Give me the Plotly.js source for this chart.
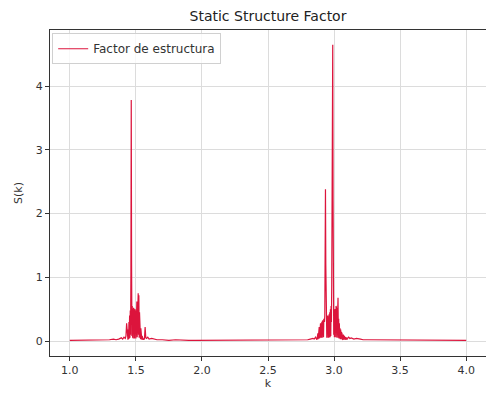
<!DOCTYPE html>
<html>
<head>
<meta charset="utf-8">
<script src="https://cdn.plot.ly/plotly-3.0.1.min.js"></script>
<style>html,body{margin:0;padding:0;background:#fff;}#chart{width:486px;height:393px;}</style>
</head>
<body>
<div id="chart"></div>
<script>
// k values (wavenumber) and S(k) values
const kLow = [1.00,1.05,1.10,1.15,1.20,1.25,1.30,1.33,1.35,1.37,1.39,1.40,1.41,1.42,1.425,1.43,1.435];
const sLow = [0.01,0.01,0.01,0.02,0.01,0.02,0.02,0.03,0.02,0.03,0.05,0.03,0.06,0.04,0.08,0.28,0.04];

const kPeak1 = [1.4400,1.4425,1.4450,1.4475,1.4500,1.4525,1.4550,1.4575,1.4600,1.4625,1.4650,1.4675,1.4700,1.4725,1.4750,1.4775,1.4800,1.4825,1.4850,1.4875,1.4900,1.4925,1.4950,1.4975,1.5000,1.5025,1.5050,1.5075,1.5100,1.5125,1.5150,1.5175,1.5200,1.5225,1.5250,1.5275,1.5300,1.5325,1.5350,1.5375,1.5400,1.5425,1.5450,1.5475,1.5500,1.5525,1.5550,1.5575,1.5600];
const sPeak1 = [0.02,0.18,0.03,0.30,0.04,0.40,0.05,0.48,0.10,1.10,3.78,1.20,0.08,0.55,0.05,0.50,0.04,0.52,0.05,0.48,0.04,0.50,0.05,0.46,0.04,0.55,0.05,0.62,0.06,0.70,0.08,0.75,0.10,0.72,0.05,0.45,0.04,0.30,0.03,0.20,0.02,0.12,0.02,0.08,0.02,0.05,0.02,0.04,0.02];

const kMid = [1.565,1.57,1.575,1.58,1.59,1.60,1.62,1.64,1.66,1.70,1.75,1.80,1.85,1.90,1.95,2.00,2.05,2.10,2.15,2.20,2.25,2.30,2.35,2.40,2.45,2.50,2.55,2.60,2.65,2.70,2.75,2.78,2.80,2.82,2.84,2.85,2.86];
const sMid = [0.04,0.22,0.05,0.04,0.06,0.03,0.04,0.03,0.02,0.02,0.01,0.02,0.01,0.01,0.01,0.01,0.01,0.01,0.01,0.01,0.01,0.01,0.01,0.01,0.01,0.01,0.01,0.02,0.01,0.02,0.02,0.02,0.02,0.03,0.04,0.03,0.06];

const kPeak2 = [2.8700,2.8725,2.8750,2.8775,2.8800,2.8825,2.8850,2.8875,2.8900,2.8925,2.8950,2.8975,2.9000,2.9025,2.9050,2.9075,2.9100,2.9125,2.9150,2.9175,2.9200,2.9225,2.9250,2.9275,2.9300,2.9325,2.9350,2.9375,2.9400,2.9425,2.9450,2.9475,2.9500,2.9525,2.9550,2.9575,2.9600,2.9625,2.9650,2.9675,2.9700,2.9725,2.9750,2.9775,2.9800,2.9825,2.9850,2.9875,2.9900,2.9925,2.9950,2.9975,3.0000,3.0025,3.0050,3.0075,3.0100,3.0125,3.0150,3.0175,3.0200,3.0225,3.0250,3.0275,3.0300,3.0325,3.0350,3.0375,3.0400,3.0425,3.0450,3.0475,3.0500,3.0525,3.0550,3.0575,3.0600,3.0625,3.0650,3.0675,3.0700,3.0725,3.0750,3.0775,3.0800,3.0825,3.0850,3.0875,3.0900,3.0925,3.0950,3.0975,3.1000];
const sPeak2 = [0.02,0.08,0.02,0.12,0.03,0.15,0.03,0.22,0.04,0.28,0.04,0.28,0.05,0.30,0.05,0.30,0.05,0.32,0.05,0.30,0.06,0.35,0.08,0.30,0.40,1.10,2.38,1.20,0.10,0.40,0.05,0.35,0.05,0.40,0.05,0.38,0.05,0.42,0.06,0.45,0.06,0.50,0.08,0.55,0.30,0.90,2.00,3.50,4.65,2.20,0.80,0.10,0.45,0.06,0.50,0.06,0.48,0.06,0.55,0.06,0.50,0.05,0.60,0.05,0.68,0.05,0.35,0.04,0.28,0.04,0.20,0.03,0.18,0.03,0.14,0.03,0.12,0.03,0.10,0.02,0.10,0.02,0.08,0.02,0.07,0.02,0.06,0.02,0.06,0.02,0.05,0.02,0.04];

const kHigh = [3.11,3.12,3.13,3.15,3.17,3.20,3.22,3.25,3.30,3.35,3.40,3.45,3.50,3.55,3.60,3.65,3.70,3.75,3.80,3.85,3.90,3.95,4.00];
const sHigh = [0.06,0.04,0.05,0.03,0.04,0.03,0.02,0.02,0.02,0.01,0.02,0.01,0.01,0.01,0.01,0.01,0.01,0.01,0.01,0.01,0.01,0.01,0.01];

const xTicks = [1.0,1.5,2.0,2.5,3.0,3.5,4.0];
const yTicks = [0,1,2,3,4];

const k = [].concat(kLow,kPeak1,kMid,kPeak2,kHigh);
const S = [].concat(sLow,sPeak1,sMid,sPeak2,sHigh);

const trace = {
  x: k, y: S, type: 'scatter', mode: 'lines',
  name: 'Factor de estructura',
  line: {color: '#dc143c', width: 1.2}
};

const axisCommon = {
  showline: true, mirror: true, linecolor: '#333', linewidth: 1,
  ticks: 'outside', ticklen: 4, tickcolor: '#333',
  showgrid: true, gridcolor: '#dcdcdc', gridwidth: 1,
  zeroline: false,
  tickfont: {family: 'DejaVu Sans', size: 11, color: '#333'}
};

const layout = {
  width: 486, height: 393,
  margin: {l: 50, r: 0, t: 30, b: 37},
  paper_bgcolor: '#fff', plot_bgcolor: '#fff',
  font: {family: 'DejaVu Sans', color: '#333'},
  title: {text: 'Static Structure Factor', font: {family: 'DejaVu Sans', size: 14, color: '#222'},
          x: 0.5, xref: 'paper', xanchor: 'center', y: 0.96, yanchor: 'middle'},
  xaxis: Object.assign({}, axisCommon, {
    range: [0.85, 4.15], tickvals: xTicks, ticktext: xTicks.map(v => v.toFixed(1)),
    title: {text: 'k', font: {family: 'DejaVu Sans', size: 11, color: '#333'}, standoff: 2}
  }),
  yaxis: Object.assign({}, axisCommon, {
    range: [-0.235, 4.88], tickvals: yTicks,
    title: {text: 'S(k)', font: {family: 'DejaVu Sans', size: 11, color: '#333'}, standoff: 10}
  }),
  showlegend: true,
  legend: {x: 0.005, y: 0.99, xanchor: 'left', yanchor: 'top',
           bgcolor: 'rgba(255,255,255,0.8)', bordercolor: '#d0d0d0', borderwidth: 1,
           font: {family: 'DejaVu Sans', size: 12, color: '#333'}}
};

Plotly.newPlot('chart', [trace], layout, {displayModeBar: false, staticPlot: true});
</script>
</body>
</html>
